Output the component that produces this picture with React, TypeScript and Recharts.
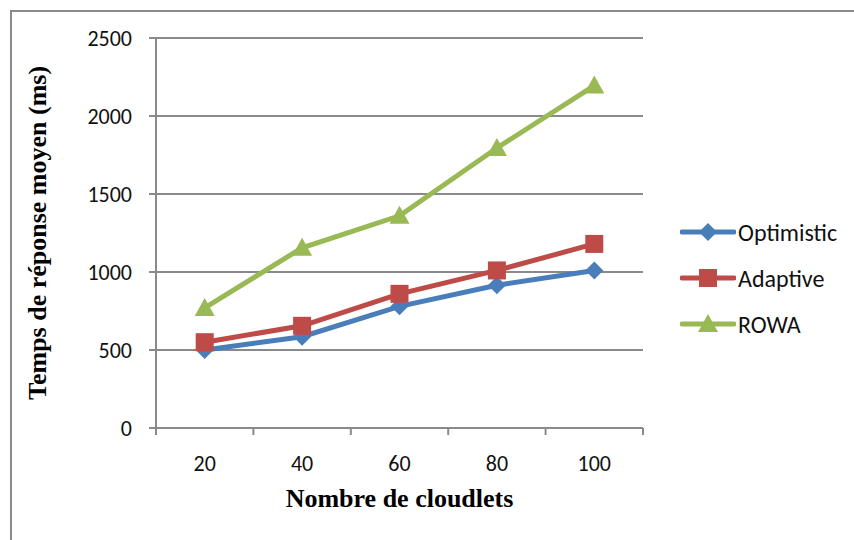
import React from "react";
import { LineChart, Line, XAxis, YAxis, CartesianGrid, Legend } from "recharts";

// mean response time (ms) per number of cloudlets
const cloudlets = [20, 40, 60, 80, 100];
const optimistic = [500, 585, 780, 915, 1010];
const adaptive = [550, 655, 860, 1010, 1180];
const rowa = [770, 1155, 1360, 1795, 2195];
const yTicks = [0, 500, 1000, 1500, 2000, 2500];
// category boundaries, used for the tick marks between the labels
const xBounds = [10, 30, 50, 70, 90, 110];

const data = cloudlets.map((c, i) => ({
    cloudlets: c,
    Optimistic: optimistic[i],
    Adaptive: adaptive[i],
    ROWA: rowa[i],
}));

const GRID = "#8a8a8a";
const TICK_FONT = "Carlito, Calibri, Lato, sans-serif";
const TITLE_FONT = "'Liberation Serif', 'Times New Roman', serif";

type Shape = "diamond" | "square" | "triangle";

const series: { key: string; color: string; shape: Shape }[] = [
    { key: "Optimistic", color: "#4a7ebb", shape: "diamond" },
    { key: "Adaptive", color: "#be4b48", shape: "square" },
    { key: "ROWA", color: "#98b954", shape: "triangle" },
];

const Marker = ({ cx, cy, color, shape }: { cx: number; cy: number; color: string; shape: Shape }) => {
    if (shape === "diamond") {
        return <path d={`M${cx},${cy - 9}L${cx + 9},${cy}L${cx},${cy + 9}L${cx - 9},${cy}Z`} fill={color} />;
    }
    if (shape === "square") {
        return <rect x={cx - 9} y={cy - 9} width={18} height={18} fill={color} />;
    }
    return <path d={`M${cx},${cy - 10}L${cx + 10},${cy + 8}L${cx - 10},${cy + 8}Z`} fill={color} />;
};

const LegendBox = () => (
    <div style={{ fontFamily: TICK_FONT, fontSize: 24, color: "#111" }}>
        {series.map((s) => (
            <div key={s.key} style={{ display: "flex", alignItems: "center", height: 46 }}>
                <svg width={56} height={22}>
                    <line x1={2} y1={11} x2={54} y2={11} stroke={s.color} strokeWidth={5} strokeLinecap="round" />
                    <Marker cx={28} cy={11} color={s.color} shape={s.shape} />
                </svg>
                <span style={{ marginLeft: 2 }}>{s.key}</span>
            </div>
        ))}
    </div>
);

export default function App() {
    return (
        <div style={{ position: "absolute", left: 0, top: 0, width: 854, height: 540, overflow: "hidden", background: "#fff" }}>
            <div
                style={{
                    position: "absolute",
                    left: 10,
                    top: 10,
                    width: 900,
                    height: 600,
                    borderTop: `2px solid ${GRID}`,
                    borderLeft: `2px solid ${GRID}`,
                }}
            />
            <LineChart width={854} height={540} data={data} margin={{ top: 38, right: 211, left: 20, bottom: 25 }}>
                <CartesianGrid xAxisId={1} horizontal vertical={false} stroke={GRID} strokeWidth={2} />
                <XAxis
                    xAxisId={0}
                    type="number"
                    dataKey="cloudlets"
                    domain={[10, 110]}
                    ticks={xBounds}
                    tickFormatter={() => ""}
                    height={7}
                    tickSize={7}
                    stroke={GRID}
                    strokeWidth={2}
                />
                <XAxis
                    xAxisId={1}
                    type="number"
                    dataKey="cloudlets"
                    domain={[10, 110]}
                    ticks={cloudlets}
                    axisLine={false}
                    tickLine={false}
                    height={80}
                    tickMargin={14}
                    tick={{ fill: "#111", fontSize: 22, fontFamily: TICK_FONT }}
                    label={{
                        value: "Nombre de cloudlets",
                        position: "insideBottom",
                        offset: 8,
                        style: { fill: "#000", fontSize: 26, fontWeight: "bold", fontFamily: TITLE_FONT },
                    }}
                />
                <YAxis
                    domain={[0, 2500]}
                    ticks={yTicks}
                    width={136}
                    tickSize={7}
                    tickMargin={17}
                    stroke={GRID}
                    strokeWidth={2}
                    tick={{ fill: "#111", fontSize: 22, fontFamily: TICK_FONT }}
                    label={{
                        value: "Temps de réponse moyen (ms)",
                        angle: -90,
                        position: "insideLeft",
                        offset: 17,
                        style: { textAnchor: "middle", fill: "#000", fontSize: 26, fontWeight: "bold", fontFamily: TITLE_FONT },
                    }}
                />
                <Legend
                    layout="horizontal"
                    align="center"
                    verticalAlign="middle"
                    content={() => <LegendBox />}
                    wrapperStyle={{ left: 680, top: 209, width: 170 }}
                />
                {series.map((s) => (
                    <Line
                        key={s.key}
                        xAxisId={1}
                        dataKey={s.key}
                        stroke={s.color}
                        strokeWidth={5}
                        isAnimationActive={false}
                        dot={(p: any) => <Marker key={`${s.key}-${p.index}`} cx={p.cx} cy={p.cy} color={s.color} shape={s.shape} />}
                        activeDot={false}
                    />
                ))}
            </LineChart>
        </div>
    );
}
